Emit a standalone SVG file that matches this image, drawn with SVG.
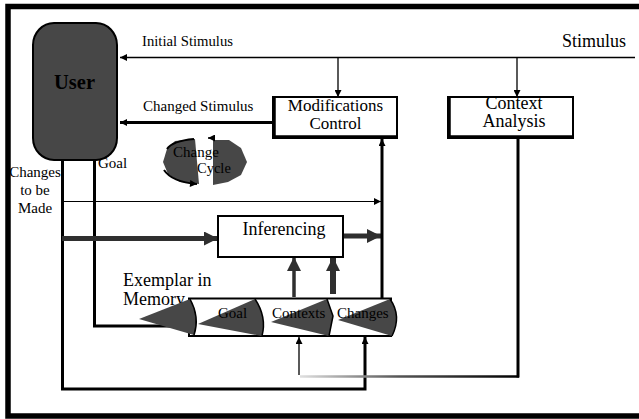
<svg xmlns="http://www.w3.org/2000/svg" width="639" height="419" viewBox="0 0 639 419">
<style>
text{font-family:"Liberation Serif","Times New Roman",serif;fill:#000}
.box{fill:#fff;stroke:#000;stroke-width:2}
.dark{fill:#474747}
.edge{fill:none;stroke:#000;stroke-width:1.5}
.thin{fill:none;stroke:#000;stroke-width:1.3}
.med{fill:none;stroke:#000;stroke-width:3}
.thick{fill:none;stroke:#2f2f2f;stroke-width:5}
</style>
<defs>
<marker id="sm" viewBox="0 0 10 10" refX="10" refY="5" markerUnits="userSpaceOnUse" markerWidth="8" markerHeight="7" orient="auto">
<path d="M0,0 L10,5 L0,10 z" fill="#000"/>
</marker>
<marker id="big" viewBox="0 0 10 10" refX="10" refY="5" markerUnits="userSpaceOnUse" markerWidth="14" markerHeight="14" orient="auto">
<path d="M0,0 L10,5 L0,10 z" fill="#2f2f2f"/>
</marker>
<linearGradient id="fade" gradientUnits="userSpaceOnUse" x1="300" y1="0" x2="519" y2="0">
<stop offset="0" stop-color="#e0e0e0"/>
<stop offset="0.45" stop-color="#555"/>
<stop offset="1" stop-color="#000"/>
</linearGradient>
</defs>

<text x="35" y="177" font-size="15" text-anchor="middle">Changes</text>
<text x="35" y="195" font-size="15" text-anchor="middle">to be</text>
<text x="35" y="213" font-size="15" text-anchor="middle">Made</text>

<g id="connectors">
<line x1="635" y1="57.5" x2="120" y2="57.5" class="thin" marker-end="url(#sm)"/>
<line x1="338" y1="57.5" x2="338" y2="97" class="thin" marker-end="url(#sm)"/>
<line x1="517" y1="57.5" x2="517" y2="97" class="thin" marker-end="url(#sm)"/>
<line x1="273" y1="122.5" x2="120" y2="122.5" class="med" marker-end="url(#sm)"/>
<path d="M62.5,160 V389 H365 V337" class="med" marker-end="url(#sm)"/>
<path d="M94.5,160 V326 H191" class="med" marker-end="url(#sm)"/>
<line x1="62" y1="201.5" x2="381" y2="201.5" stroke="#000" stroke-width="1" marker-end="url(#sm)"/>
<line x1="62" y1="238.5" x2="218" y2="238.5" class="thick" marker-end="url(#big)"/>
<line x1="343" y1="236" x2="381" y2="236" class="thick" marker-end="url(#big)"/>
<line x1="382" y1="299" x2="382" y2="139" class="med" marker-end="url(#sm)"/>
<line x1="294" y1="297" x2="294" y2="257" stroke="#2f2f2f" stroke-width="3.5" marker-end="url(#big)"/>
<line x1="333" y1="294" x2="333" y2="257" stroke="#2f2f2f" stroke-width="6" marker-end="url(#big)"/>
<line x1="518" y1="138" x2="518" y2="377.5" class="med"/>
<line x1="300" y1="376.5" x2="519" y2="376.5" stroke="url(#fade)" stroke-width="2.5"/>
<line x1="299" y1="375" x2="299" y2="337" class="thin" marker-end="url(#sm)"/>
</g>

<g id="user">
<rect x="33" y="23" width="84" height="137" rx="21" ry="22" class="dark" stroke="#000" stroke-width="2"/>
<text x="74.5" y="89" font-size="20.5" font-weight="bold" text-anchor="middle">User</text>
</g>

<g id="labels">
<text x="142" y="46" font-size="14.7">Initial Stimulus</text>
<text x="562" y="47" font-size="18">Stimulus</text>
<text x="143" y="111" font-size="15">Changed Stimulus</text>
<text x="98" y="168" font-size="15">Goal</text>
<text x="123" y="286" font-size="18">Exemplar in</text>
<text x="123" y="305" font-size="18">Memory</text>
</g>

<g id="modifications-control">
<rect x="273" y="97" width="124" height="41" class="box"/>
<path d="M274,97 V137 H397" fill="none" stroke="#000" stroke-width="3.5"/>
<text x="335.5" y="110.5" font-size="17" text-anchor="middle">Modifications</text>
<text x="335.5" y="128.5" font-size="17" text-anchor="middle">Control</text>
</g>

<g id="context-analysis">
<rect x="448" y="97" width="125" height="41" class="box"/>
<path d="M449,97 V137 H573" fill="none" stroke="#000" stroke-width="3.5"/>
<text x="514" y="108.5" font-size="18" text-anchor="middle">Context</text>
<text x="514" y="127" font-size="18" text-anchor="middle">Analysis</text>
</g>

<g id="change-cycle">
<path d="M195,139 L175,141 L167,149 L163,162 L168,174 L180,182 L199,184 Z" class="dark"/>
<path d="M213,140 L229,140 L241,148 L247,162 L241,175 L228,182 L213,185 Z" class="dark"/>
<path d="M167,149 Q172,141 194,139" fill="none" stroke="#000" stroke-width="2"/>
<path d="M164,170 Q172,182 197,184" fill="none" stroke="#000" stroke-width="2" marker-end="url(#sm)"/>
<path d="M215,138 L208,138" stroke="#000" stroke-width="1.5" marker-end="url(#sm)"/>
<text x="173" y="157" font-size="15">Change</text>
<text x="197" y="173" font-size="14.5">Cycle</text>
</g>

<g id="inferencing">
<rect x="218" y="216" width="125" height="41" class="box" stroke-width="3"/>
<text x="284" y="235" font-size="18" text-anchor="middle">Inferencing</text>
</g>

<g id="exemplar">
<rect x="189" y="298.5" width="202" height="37.5" class="box" stroke-width="3"/>
<path d="M139,319 L190,299 Q200,317 194,335 Z" class="dark"/>
<path d="M190,299 Q200,317 194,335" class="edge"/>
<path d="M198,324 L255,299 Q267,317 262,336 Z" class="dark"/>
<path d="M255,299 Q267,317 262,336" class="edge"/>
<path d="M271,322 L327,299 L333,316 L329,336 Z" class="dark"/>
<path d="M327,299 L333,316 L329,336" class="edge"/>
<path d="M338,320 L390,299 Q402,316 392,336 Z" class="dark"/>
<path d="M390,299 Q402,316 392,336" class="edge"/>
<text x="218" y="318" font-size="15">Goal</text>
<text x="272" y="318" font-size="15">Contexts</text>
<text x="337" y="318" font-size="15">Changes</text>
</g>

<rect x="8" y="6.5" width="640" height="409.5" fill="none" stroke="#000" stroke-width="5.5"/>
</svg>
